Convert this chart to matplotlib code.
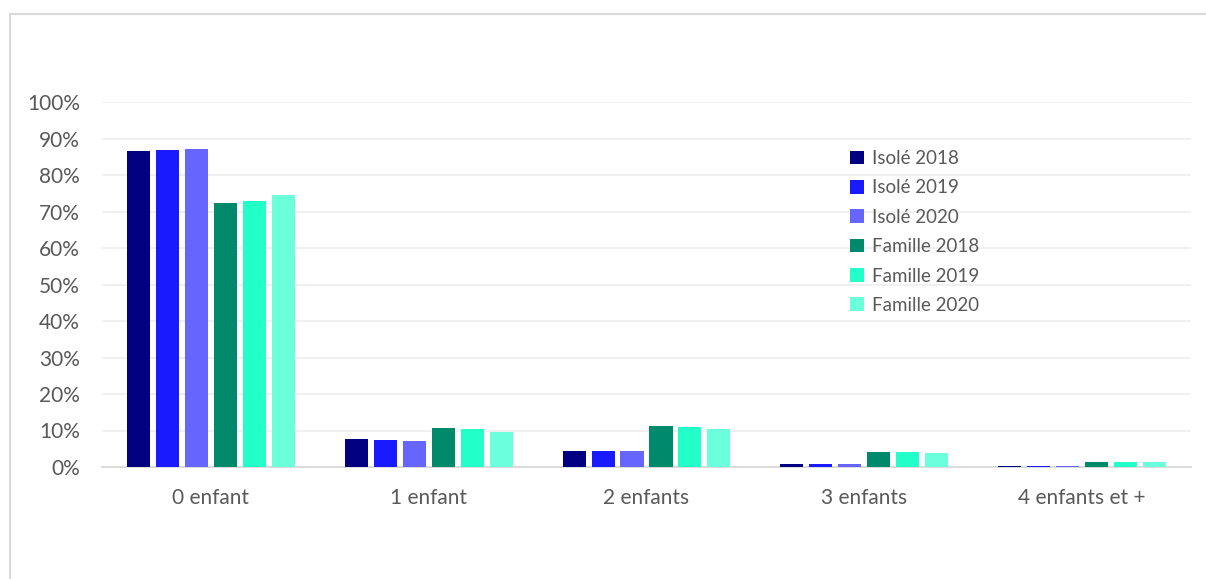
import matplotlib
matplotlib.use("Agg")
import matplotlib.pyplot as plt
import numpy as np
from matplotlib.patches import Rectangle
from matplotlib.ticker import PercentFormatter

categories = ["0 enfant", "1 enfant", "2 enfants", "3 enfants", "4 enfants et +"]
series_names = ["Isolé 2018", "Isolé 2019", "Isolé 2020",
                "Famille 2018", "Famille 2019", "Famille 2020"]
isole_2018 = [86.6, 7.6, 4.4, 0.9, 0.35]
isole_2019 = [86.8, 7.3, 4.4, 0.9, 0.3]
isole_2020 = [87.2, 7.1, 4.4, 0.9, 0.3]
famille_2018 = [72.4, 10.6, 11.2, 4.2, 1.3]
famille_2019 = [73.0, 10.3, 10.9, 4.0, 1.3]
famille_2020 = [74.4, 9.6, 10.4, 3.8, 1.3]
series_values = [isole_2018, isole_2019, isole_2020,
                 famille_2018, famille_2019, famille_2020]
colors = ["#000080", "#1a1aff", "#6666ff", "#00896a", "#22ffc8", "#6cffdc"]

plt.rcParams["font.family"] = ["Lato", "DejaVu Sans"]
text_color = "#595959"

fig = plt.figure(figsize=(12.06, 5.79), dpi=100)
ax = fig.add_axes([102 / 1206, 1 - 467 / 579, 1089 / 1206, 365 / 579])

x = np.arange(len(categories))
slot = 0.133
width = 0.106
for i, (name, vals, c) in enumerate(zip(series_names, series_values, colors)):
    offs = (i - 2.5) * slot
    ax.bar(x + offs, vals, width=width, color=c, label=name, zorder=3)

ax.set_xlim(-0.5, len(categories) - 0.5)
ax.set_ylim(0, 100)
ax.set_yticks(np.arange(0, 101, 10))
ax.yaxis.set_major_formatter(PercentFormatter(decimals=0))
ax.set_xticks(x)
ax.set_xticklabels(categories)
ax.grid(axis="y", color="#efefef", linewidth=1.3, zorder=0)
for s in ["top", "right", "left"]:
    ax.spines[s].set_visible(False)
ax.spines["bottom"].set_color("#d9d9d9")
ax.spines["bottom"].set_linewidth(1.3)
ax.tick_params(axis="both", length=0, labelsize=15, colors=text_color)
ax.tick_params(axis="x", pad=15)
ax.tick_params(axis="y", pad=16)

leg = ax.legend(loc="upper left", bbox_to_anchor=(850 / 1206, 1 - 150 / 579),
                bbox_transform=fig.transFigure, frameon=False, fontsize=13.5,
                handlelength=0.75, handleheight=0.75, handletextpad=0.4,
                labelspacing=0.66, borderaxespad=0, borderpad=0)
for t in leg.get_texts():
    t.set_color(text_color)

# light frame around the chart area
fig.patches.append(Rectangle((9.5 / 1206, -0.1), 1.2, (1 - 13.5 / 579) + 0.1,
                             transform=fig.transFigure, fill=False,
                             edgecolor="#d9d9d9", linewidth=1.5))

fig.savefig("out.png", dpi=100)
